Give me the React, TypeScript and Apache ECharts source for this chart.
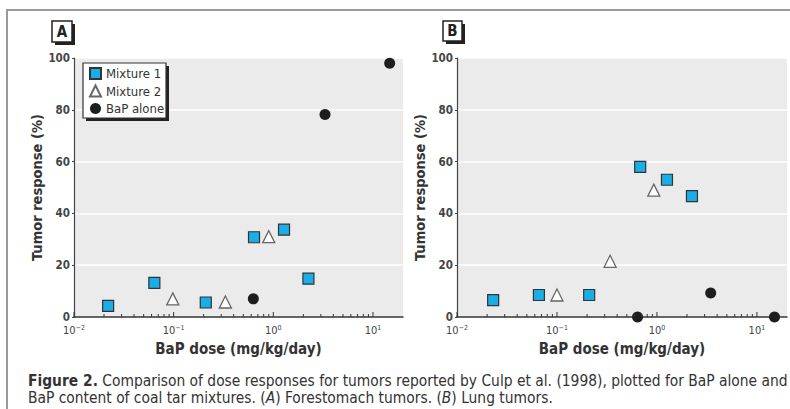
import React, { useEffect, useRef } from "react";
import * as echarts from "echarts";

// Panel A: forestomach tumors  [dose mg/kg/day, response %]
const aMix1 = [[0.022, 4.3], [0.064, 13.2], [0.21, 5.6], [0.64, 30.8], [1.28, 33.7], [2.25, 14.8]];
const aMix2 = [[0.098, 7.0], [0.33, 5.8], [0.9, 31.0]];
const aBaP = [[0.63, 7.0], [3.3, 78.2], [14.7, 98.0]];
// Panel B: lung tumors
const bMix1 = [[0.023, 6.5], [0.066, 8.5], [0.21, 8.5], [0.68, 58.0], [1.26, 53.0], [2.24, 46.7]];
const bMix2 = [[0.1, 8.5], [0.34, 21.5], [0.93, 49.0]];
const bBaP = [[0.64, 0], [3.45, 9.3], [15.0, 0]];

const seriesNames = ["Mixture 1", "Mixture 2", "BaP alone"];
const xAxisTitle = "BaP dose (mg/kg/day)";
const yAxisTitle = "Tumor response (%)";
const xMin = 0.01;
const xMax = 20;
const xTicks = [
  0.01, 0.02, 0.03, 0.04, 0.05, 0.06, 0.07, 0.08, 0.09,
  0.1, 0.2, 0.3, 0.4, 0.5, 0.6, 0.7, 0.8, 0.9,
  1, 2, 3, 4, 5, 6, 7, 8, 9,
  10,
];
const captionBold = "Figure 2.";
const captionLine1 = " Comparison of dose responses for tumors reported by Culp et al. (1998), plotted for BaP alone and";
const captionLine2a = "BaP content of coal tar mixtures. (";
const captionLine2b = ") Forestomach tumors. (";
const captionLine2c = ") Lung tumors.";

const FONT = '"DejaVu Sans Condensed", "Liberation Sans Narrow", Arial, sans-serif';

function fmtLog(v: number) {
  const e = Math.log10(v);
  const r = Math.round(e);
  if (Math.abs(e - r) > 1e-6) return "";
  return "10{s|" + String(r).replace("-", "−") + "}";
}

export default function App() {
  const ref = useRef<HTMLDivElement>(null);
  useEffect(() => {
    if (!ref.current) return;
    const chart = echarts.init(ref.current, undefined, { renderer: "svg" });

    const mkX = (gridIndex: number) => ({
      type: "log",
      logBase: 10,
      gridIndex,
      min: xMin,
      max: xMax,
      name: xAxisTitle,
      nameLocation: "middle",
      nameGap: 24,
      nameTextStyle: { fontFamily: FONT, fontWeight: "bold", fontSize: 15, color: "#333" },
      axisLine: { show: true, onZero: false, lineStyle: { color: "#333", width: 1.5 } },
      axisTick: { show: false },
      splitLine: { show: false },
      minorTick: { show: false },
      axisLabel: {
        formatter: fmtLog,
        fontFamily: FONT,
        fontSize: 11,
        color: "#444",
        margin: 7,
        showMaxLabel: false,
        rich: {
          s: { fontFamily: FONT, fontSize: 7, color: "#444", verticalAlign: "top", padding: [0, 0, 6, 0] },
        },
      },
    });
    const mkY = (gridIndex: number) => ({
      type: "value",
      gridIndex,
      min: 0,
      max: 100,
      interval: 20,
      name: yAxisTitle,
      nameLocation: "middle",
      nameGap: 30,
      nameTextStyle: { fontFamily: FONT, fontWeight: "bold", fontSize: 14.5, color: "#333" },
      axisLine: { show: true, lineStyle: { color: "#444", width: 1.2 } },
      axisTick: { show: true, length: 2, lineStyle: { color: "#444" } },
      splitLine: { show: true, lineStyle: { color: "#ffffff", width: 1.5 } },
      axisLabel: { fontFamily: FONT, fontSize: 11.5, fontWeight: "bold", color: "#444", margin: 4 },
    });

    const sq = { symbol: "rect", symbolSize: 11, itemStyle: { color: "#1aaee6", borderColor: "#333", borderWidth: 1.2, opacity: 1 } };
    const tri = { symbol: "triangle", symbolSize: 12, itemStyle: { color: "#ffffff", borderColor: "#666", borderWidth: 1.3, opacity: 1 } };
    const cir = { symbol: "circle", symbolSize: 11, itemStyle: { color: "#1e1e1e", opacity: 1 } };

    const mkTicks = (i: number) => ({
      type: "custom",
      xAxisIndex: i,
      yAxisIndex: i,
      silent: true,
      z: 5,
      clip: false,
      data: xTicks.map((v) => [v, 0]),
      renderItem: (params: any, api: any) => {
        const v = api.value(0);
        const p = api.coord([v, 0]);
        const e = Math.log10(v);
        const major = Math.abs(e - Math.round(e)) < 1e-6;
        const len = major ? 5 : 3;
        return {
          type: "line",
          shape: { x1: p[0], y1: p[1], x2: p[0], y2: p[1] - len },
          style: { stroke: "#333", lineWidth: 1 },
        };
      },
    });

    const option: any = {
      animation: false,
      textStyle: { fontFamily: FONT },
      grid: [
        { left: 74, top: 58, width: 329, height: 259, show: true, backgroundColor: "#ebebeb", borderWidth: 0 },
        { left: 457, top: 58, width: 330, height: 259, show: true, backgroundColor: "#ebebeb", borderWidth: 0 },
      ],
      xAxis: [mkX(0), mkX(1)],
      yAxis: [mkY(0), mkY(1)],
      legend: {
        data: seriesNames,
        orient: "vertical",
        left: 89,
        top: 67,
        itemGap: 4.5,
        itemWidth: 11,
        itemHeight: 11,
        z: 20,
        textStyle: { fontFamily: FONT, fontSize: 13, color: "#333" },
        padding: 0,
      },
      graphic: [
        { type: "rect", shape: { x: 7, y: 10, width: 800, height: 420 }, style: { fill: "none", stroke: "#9a9a9a", lineWidth: 2 }, z: -10, silent: true },
        { type: "rect", shape: { x: 55, y: 24, width: 20, height: 21 }, style: { fill: "#222" }, z: 10 },
        { type: "rect", shape: { x: 52, y: 21, width: 20, height: 21 }, style: { fill: "#fff", stroke: "#222", lineWidth: 1.5 }, z: 11 },
        { type: "text", x: 62, y: 31.5, style: { text: "A", fontFamily: FONT, fontWeight: "bold", fontSize: 15, fill: "#222", align: "center", verticalAlign: "middle" }, z: 12 },
        { type: "rect", shape: { x: 446, y: 24, width: 19, height: 20 }, style: { fill: "#222" }, z: 10 },
        { type: "rect", shape: { x: 443, y: 21, width: 19, height: 20 }, style: { fill: "#fff", stroke: "#222", lineWidth: 1.5 }, z: 11 },
        { type: "text", x: 452.5, y: 31, style: { text: "B", fontFamily: FONT, fontWeight: "bold", fontSize: 15, fill: "#222", align: "center", verticalAlign: "middle" }, z: 12 },
        { type: "rect", shape: { x: 86, y: 66, width: 83, height: 55 }, style: { fill: "#222" }, z: 10 },
        { type: "rect", shape: { x: 83, y: 63, width: 83, height: 55 }, style: { fill: "#fff", stroke: "#333", lineWidth: 1.2 }, z: 11 },
        {
          type: "text", x: 28, y: 381,
          style: {
            text: "{b|" + captionBold + "}" + captionLine1,
            fontFamily: FONT, fontSize: 15.4, fill: "#333", verticalAlign: "middle",
            rich: { b: { fontFamily: FONT, fontSize: 15.4, fontWeight: "bold", fill: "#333" } },
          },
          z: 12,
        },
        {
          type: "text", x: 28, y: 398,
          style: {
            text: captionLine2a + "{i|A}" + captionLine2b + "{i|B}" + captionLine2c,
            fontFamily: FONT, fontSize: 15.4, fill: "#333", verticalAlign: "middle",
            rich: { i: { fontFamily: FONT, fontSize: 15.4, fontStyle: "italic", fill: "#333" } },
          },
          z: 12,
        },
      ],
      series: [
        { name: seriesNames[0], type: "scatter", xAxisIndex: 0, yAxisIndex: 0, data: aMix1, z: 3, ...sq },
        { name: seriesNames[1], type: "scatter", xAxisIndex: 0, yAxisIndex: 0, data: aMix2, z: 3, ...tri },
        { name: seriesNames[2], type: "scatter", xAxisIndex: 0, yAxisIndex: 0, data: aBaP, z: 3, ...cir },
        { name: seriesNames[0], type: "scatter", xAxisIndex: 1, yAxisIndex: 1, data: bMix1, z: 3, ...sq },
        { name: seriesNames[1], type: "scatter", xAxisIndex: 1, yAxisIndex: 1, data: bMix2, z: 3, ...tri },
        { name: seriesNames[2], type: "scatter", xAxisIndex: 1, yAxisIndex: 1, data: bBaP, z: 3, clip: false, ...cir },
        mkTicks(0),
        mkTicks(1),
      ],
    };
    chart.setOption(option);
    return () => chart.dispose();
  }, []);
  return <div ref={ref} style={{ width: 790, height: 409, position: "absolute", left: 0, top: 0 }} />;
}
